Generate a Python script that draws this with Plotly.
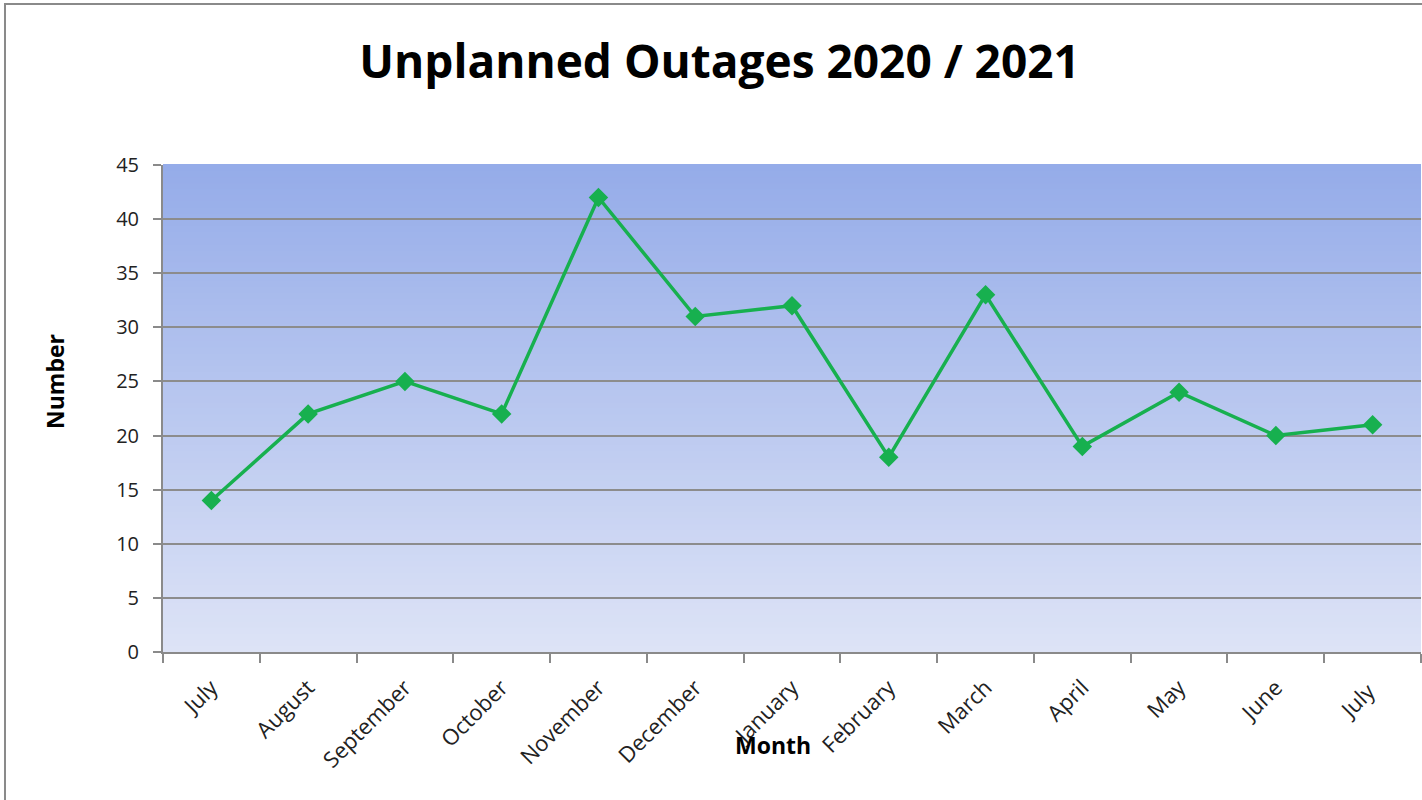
import plotly.graph_objects as go

months = ["July", "August", "September", "October", "November", "December",
          "January", "February", "March", "April", "May", "June", "July "]
outages = [14, 22, 25, 22, 42, 31, 32, 18, 33, 19, 24, 20, 21]
y_ticks = list(range(0, 50, 5))

fig = go.Figure()
fig.add_trace(go.Scatter(
    x=months, y=outages, mode="lines+markers",
    line=dict(color="#17B04F", width=3.5),
    marker=dict(symbol="diamond", size=15, color="#17B04F"),
    showlegend=False, cliponaxis=False,
))

# gradient plot background via horizontal bands
top = (149, 172, 233)
bot = (221, 227, 246)
n = 80
shapes = []
for i in range(n):
    t = i / (n - 1)
    c = tuple(round(bot[k] + (top[k] - bot[k]) * t) for k in range(3))
    shapes.append(dict(type="rect", xref="x domain", yref="y domain",
                       x0=0, x1=1, y0=i / n, y1=(i + 1) / n + 0.002,
                       fillcolor="rgb(%d,%d,%d)" % c, line=dict(width=0),
                       layer="below"))
# chart border
shapes.append(dict(type="rect", xref="paper", yref="paper",
                   x0=-0.1256, x1=1.2, y0=-0.5, y1=1.3306,
                   line=dict(color="#8a8a8a", width=2), fillcolor="rgba(0,0,0,0)",
                   layer="above"))

fig.update_layout(
    width=1422, height=800,
    margin=dict(l=163, r=1, t=165, b=148),
    paper_bgcolor="white", plot_bgcolor="white",
    shapes=shapes,
    title=dict(text="<b>Unplanned Outages 2020 / 2021</b>", x=0.506, xanchor="center",
               y=1 - 62 / 800, yanchor="middle",
               font=dict(family="Open Sans", size=46, color="black")),
    font=dict(family="Open Sans", size=20, color="#222"),
    annotations=[
        dict(text="<b>Month</b>", xref="paper", yref="paper",
             x=(773 - 163) / 1258, y=-(745 - 652) / 487, xanchor="center", yanchor="middle",
             showarrow=False, font=dict(family="Open Sans", size=23, color="black")),
        dict(text="<b>Number</b>", xref="paper", yref="paper",
             x=(55 - 163) / 1258, y=(652 - 382) / 487, xanchor="center", yanchor="middle",
             textangle=-90, showarrow=False,
             font=dict(family="Open Sans", size=23, color="black")),
    ],
)
fig.update_xaxes(
    type="category", range=[-0.5, 12.5], tickangle=-45,
    showgrid=False, showline=True, linecolor="#8a8a8a", linewidth=2,
    ticks="outside", tickson="boundaries", ticklen=9, tickcolor="#8a8a8a", tickwidth=2,
    ticklabelstandoff=12,
    tickfont=dict(family="Open Sans", size=22, color="#222"),
)
fig.update_yaxes(
    range=[0, 45], tickvals=y_ticks, showgrid=True, gridcolor="#8c8c8c", gridwidth=2,
    zeroline=False, showline=True, linecolor="#8a8a8a", linewidth=2,
    ticks="outside", ticklen=8, tickcolor="#8a8a8a", tickwidth=2,
    ticklabelstandoff=10,
    tickfont=dict(family="Open Sans", size=20, color="#222"),
)
fig.write_html("out.html", config={"displayModeBar": False},
               post_script="document.body.style.margin='0';")
